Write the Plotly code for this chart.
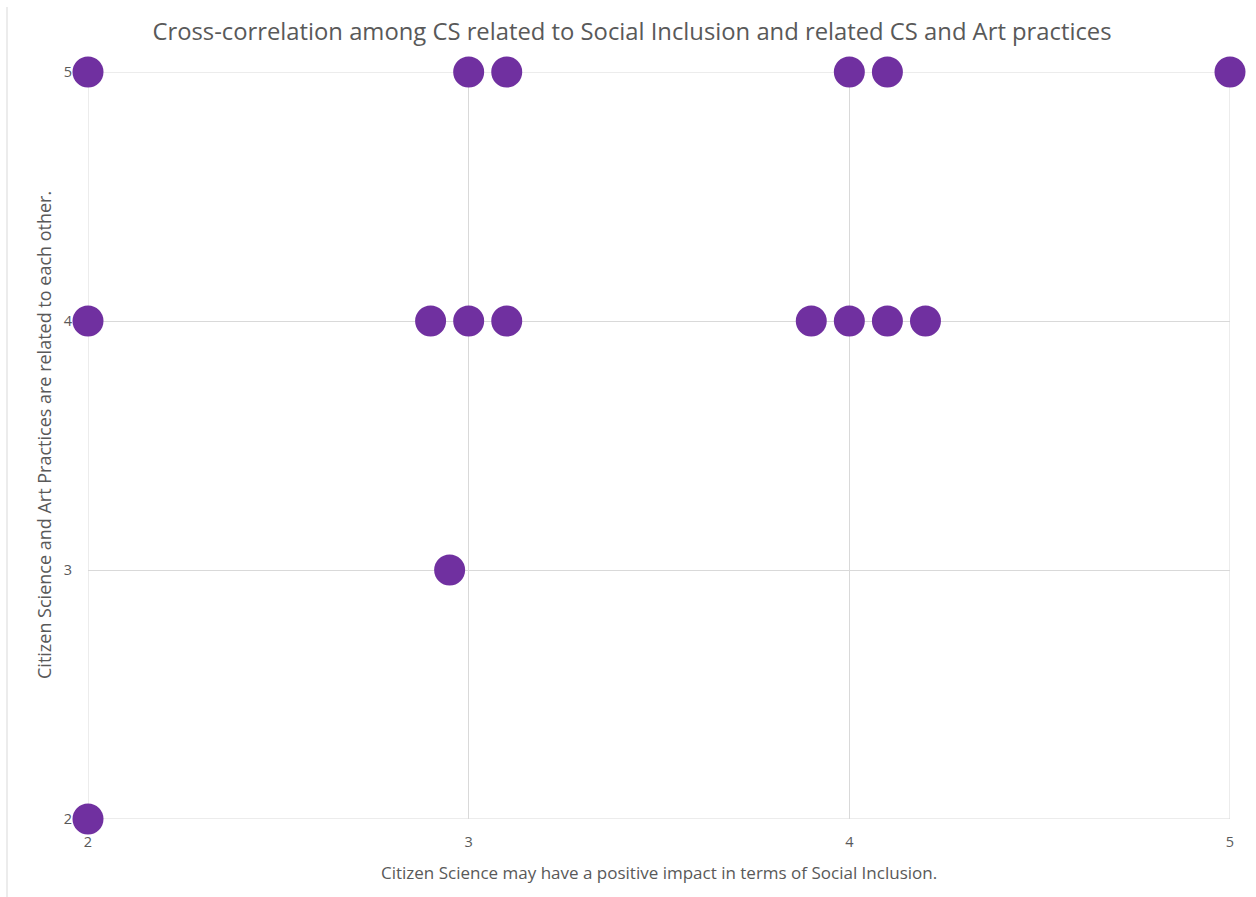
import plotly.graph_objects as go

x_vals = [2, 2, 2, 3, 3.1, 4, 4.1, 5, 2.9, 3, 3.1, 3.9, 4, 4.1, 4.2, 2.95]
y_vals = [5, 4, 2, 5, 5, 5, 5, 5, 4, 4, 4, 4, 4, 4, 4, 3]

title_text = "Cross-correlation among CS related to Social Inclusion and related CS and Art practices"
x_title = "Citizen Science may have a positive impact in terms of Social Inclusion."
y_title = "Citizen Science and Art Practices are related to each other."
tick_vals = [2, 3, 4, 5]
axis_range = [2, 5]

W, H = 1256, 897
L, R, T, B = 88, 26, 72, 78
pw = W - L - R
ph = H - T - B
grid = "#d9d9d9"
txt = "#595959"
font = "'Open Sans', sans-serif"

fig = go.Figure(go.Scatter(
    x=x_vals, y=y_vals, mode="markers",
    marker=dict(size=31, color="#7030A0", line=dict(width=0)),
    cliponaxis=False, hoverinfo="x+y",
))

shapes = [dict(type="line", xref="paper", yref="paper",
               x0=(7 - L) / pw, x1=(7 - L) / pw,
               y0=(H - B - 7) / ph, y1=(H - B - 897) / ph,
               line=dict(color=grid, width=1))]
# edge gridlines (plotly omits gridlines at the range ends)
for v in axis_range:
    shapes.append(dict(type="line", xref="x", yref="paper", x0=v, x1=v, y0=0, y1=1,
                       line=dict(color=grid, width=1), layer="below"))
    shapes.append(dict(type="line", xref="paper", yref="y", x0=0, x1=1, y0=v, y1=v,
                       line=dict(color=grid, width=1), layer="below"))

fig.update_layout(
    width=W, height=H,
    margin=dict(l=L, r=R, t=T, b=B),
    paper_bgcolor="white", plot_bgcolor="white",
    font=dict(family=font, color=txt),
    title=dict(text=title_text, x=632 / W, xref="container", xanchor="center", y=1 - 32 / H, yanchor="middle",
               font=dict(size=23.8, color=txt, family=font)),
    showlegend=False,
    xaxis=dict(range=axis_range, tickvals=tick_vals, showgrid=True, gridcolor=grid, gridwidth=1,
               zeroline=False, showline=False, ticks="", tickfont=dict(size=14.5, color=txt),
               ticklabelstandoff=12),
    yaxis=dict(range=axis_range, tickvals=tick_vals, showgrid=True, gridcolor=grid, gridwidth=1,
               zeroline=False, showline=False, ticks="", tickfont=dict(size=14.5, color=txt),
               ticklabelstandoff=15),
    shapes=shapes,
    annotations=[
        dict(text=x_title, xref="paper", yref="paper", x=0.5, y=(H - B - 872) / ph,
             xanchor="center", yanchor="middle", showarrow=False,
             font=dict(size=17, color=txt, family=font)),
        dict(text=y_title, xref="paper", yref="paper", x=(44 - L) / pw, y=(H - B - 435) / ph,
             xanchor="center", yanchor="middle", showarrow=False, textangle=-90,
             font=dict(size=18, color=txt, family=font)),
    ],
)

fig.write_html("out.html")
